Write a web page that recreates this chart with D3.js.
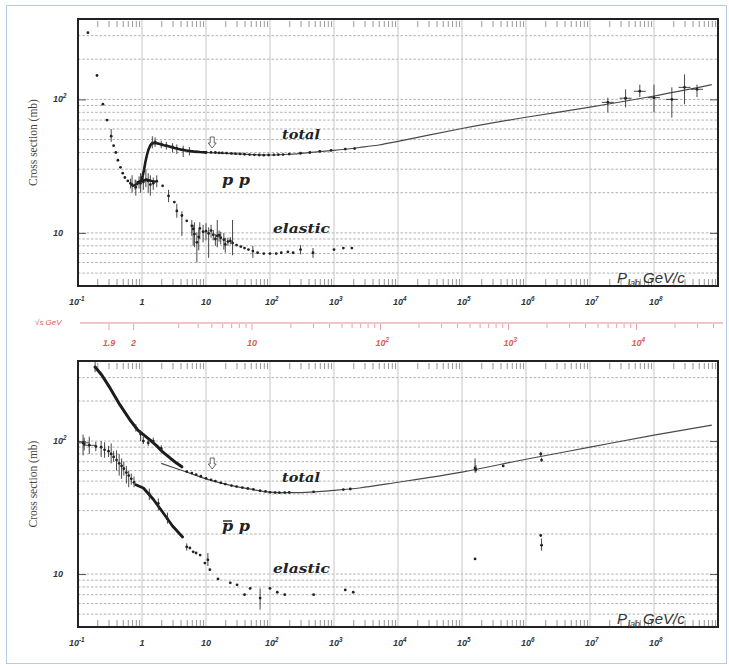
<!DOCTYPE html>
<html><head><meta charset="utf-8">
<script src="https://cdn.jsdelivr.net/npm/d3@7"></script>
<style>body{margin:0;background:#fff}svg{display:block}</style>
</head><body>
<svg id="c" width="729" height="668"></svg>
<script>
// ---------------- data ----------------
const xDecades = [0.1, 1, 10, 100, 1e3, 1e4, 1e5, 1e6, 1e7, 1e8];
const xTickLabels = [["10","-1"],["1",""],["10",""],["10","2"],["10","3"],["10","4"],["10","5"],["10","6"],["10","7"],["10","8"]];
const yTickValues = [10, 100];
const yTickLabels = [["10",""],["10","2"]];
const yGrid = [5,6,7,8,9,10,20,30,40,50,60,70,80,90,100,200,300];
const sqrtsLabels = [[1.9,"1.9",""],[2,"2",""],[10,"10",""],[100,"10","2"],[1000,"10","3"],[10000,"10","4"]];

// pp (top panel): [p_lab, sigma, low, high]
const ppTotalLow = [[0.143,316],[0.198,151],[0.245,92],[0.284,70],[0.33,53,48,60],[0.36,45],[0.39,40],[0.42,35],
  [0.46,31],[0.5,28],[0.54,26],[0.6,24.5],[0.66,23.5,21.5,25.5],[0.72,22.5],[0.78,22.8,21,25],[0.84,23.2],[0.9,23.8,21.5,26.5]];
const ppTotalBand = [[0.92,24],[0.98,25],[1.03,27],[1.08,30],[1.13,34],[1.19,38],[1.26,42],[1.34,45],[1.43,46.8],
  [1.55,47.2],[1.7,47],[1.9,46.3],[2.2,45.4],[2.6,44.5],[3.0,43.6],[3.6,42.6],[4.3,41.8],[5.2,41.2],[6.5,40.6],[8,40.3],[10,40.1]];
const ppTotalPts = [[1.45,47,43,53],[1.6,48,44,52],[2.0,46,43,49],[2.4,45,42,48],[3.0,44,40,47],[3.5,43,39,46],[4.4,42,37,45],
  [5.5,41,38,44],[7,40.5],[10,40],[12,40.1],[14,40],[16,39.8],[18,39.7],[21,39.6],[25,39.4],[29,39.2],[34,39.0],[40,38.8],
  [48,38.6],[57,38.4],[68,38.3],[80,38.2],[95,38.3],[115,38.4],[135,38.5],[160,38.6],[200,38.9],[300,39.5],[420,40.0],
  [600,40.8],[900,41.5],[1500,42.4],[2100,42.8]];
const ppCosmic = [[1.9e7,95,80,103],[3.6e7,102,87,119],[6e7,115,104,129],[1.0e8,103,80,129],[1.9e8,100,73,123],[3.0e8,123,92,154],[4.7e8,119,104,129]];
const ppElasticBand = [[0.85,24],[1.0,24.5],[1.2,25],[1.4,24.5],[1.6,24.2]];
const ppElasticLow = [[0.7,23,20,27],[0.8,22,19,25],[0.95,23.5,20,28],[1.05,24,21,27],[1.15,25,22,30],[1.25,24.5,20,28],[1.35,23,19,27],[1.5,23.5,21,26]];
const ppElasticPts = [[1.7,24.4,22,27],[2.1,22.5],[2.6,18.9,17,21],[3.2,17],[3.5,14.6,13,16.5],[4.2,13.5,9.5,14.5],[5.0,12.3],
  [6.0,11.3,9.5,12.5],[6.3,10.7,8,11.5],[6.6,9.8,7.8,12],[7.2,8.5,6.0,10.1],[7.7,9.3,7.4,10.6],[8,10.8,9,12],[9,10.2,8.5,11.5],
  [10,10.3,8.8,11.8],[11,9.9,6.5,11],[12,10.4,9.2,11.5],[13,9.7,8.8,10.5],[14,9.0,8,9.8],[15,9.5,7.8,12.5],[16,9.6,8.6,10.4],
  [17,9.2,8.2,10.2],[19,8.9,7.5,10],[20,8.2,7.1,9.2],[22,8.6,8,9.2],[24,8.7,8.2,9.3],[26,8.4,6.8,12.5],[30,8.1],[35,7.9],[40,7.7],
  [46,7.5],[54,7.3,6.5,8.0],[64,7.1],[80,7.0],[100,7.0],[125,7.0],[150,7.1],[190,7.2],[230,7.1],[300,7.5,6.9,8.1],
  [470,7.1,6.5,7.7],[1000,7.5],[1400,7.7],[1900,7.7]];
const ppFit = [[3,43.6],[5,41.4],[10,40.1],[20,39.4],[50,38.6],[100,38.3],[200,38.8],[500,40.3],[1000,41.5],[2500,43.6],
  [5000,45.5],[1e4,48.5],[3e4,54],[1e5,60.5],[1e6,73.5],[1e7,87.5],[1e8,106],[8e8,129]];

// pbar-p (bottom panel)
const pbTotalBand = [[0.185,360],[0.235,314],[0.316,251],[0.453,187],[0.65,144],[0.86,121],[1.1,110],[1.33,102],[1.7,92],
  [2.1,83],[2.8,74],[3.5,68],[4.2,64]];
const pbTotalLow = [[0.185,360,330,400],[0.8,126,118,134],[0.95,113,100,120],[1.05,100,95,108],[1.25,97,92,103],[1.5,100,95,106],[2.0,88,83,93]];
const pbTotalPts = [[5,59],[6,57.5],[7,56],[8.3,54.5],[10,52.5],[12,51],[14,50],[17,48.5],[20,47.5],[25,46.3],[30,45.5],
  [37,44.7],[45,44],[55,43.3],[70,42.3],[85,41.8],[100,41.2],[120,41.0],[140,40.9],[170,41.0],[200,41.1],[480,41.5],
  [1400,43.2],[1800,43.6],[1.6e5,62.8,58,74],[1.65e5,61,58,66],[4.4e5,65],[1.7e6,80,77,83],[1.75e6,72,70,75]];
const pbElasticCross = [[0.12,97,78,112],[0.15,93,80,108]];
const pbElasticLow = [[0.125,95,85,106],[0.19,91,84,99],[0.23,90,76,100],[0.26,86,75,98],
  [0.3,84,76,92],[0.33,80,68,96],[0.36,76,70,84],[0.4,72,60,85],[0.44,68,55,80],[0.48,65,52,74],[0.52,62,55,70],
  [0.57,58,48,65],[0.62,55,45,60],[0.68,52,47,57],[0.75,49,45,54]];
const pbElasticBand = [[0.8,47],[1.05,44.4],[1.5,36.5],[2.15,28.8],[3.0,23],[4.3,19]];
const pbElasticPts = [[1.3,40,36,44],[1.8,34,30,37],[2.5,26,24,29],[5,16,15,17],[5.6,15.7],[6.3,14.7],[7,14.4],[8.1,13.9],
  [9.6,12.1],[10.7,12.8,11.5,14.4],[11.5,10.8],[15.4,9.2],[24,8.6],[30.6,8.3],[40,7.0],[49,7.8],[70,6.6,5.4,7.8],[100,7.8],
  [130,7.3],[170,7.0],[480,7.0],[1500,7.6],[2000,7.3],[1.6e5,13],[1.7e6,19.5],[1.75e6,16.5,15,18.5]];
const pbFit = [[2,68],[3,63.5],[5,58.5],[10,52],[20,47.5],[50,43.5],[100,41.3],[200,40.9],[500,41.5],[1000,42.6],
  [2500,44.4],[1e4,49],[1e5,58.5],[1e6,73],[1e7,90],[1e8,111],[8e8,132]];

// ---------------- drawing ----------------
const svg = d3.select('#c');
const X0 = 78, X1 = 718;
const x = d3.scaleLog().domain([0.1, 1e9]).range([X0, X1]);
const minorX = [];
xDecades.forEach(d => { for (let m = 2; m <= 9; m++) minorX.push(d * m); });

svg.append('rect').attr('x',6.5).attr('y',5.5).attr('width',720).attr('height',658)
  .attr('fill','none').attr('stroke','#b7cbe6').attr('stroke-width',1);

function supLabel(g, xp, yp, base, sup, anchor, size, color) {
  const t = g.append('text').attr('x', xp).attr('y', yp).attr('text-anchor', anchor)
    .attr('font-family','Liberation Sans, Arial, sans-serif').attr('font-size', size)
    .attr('font-weight','bold').attr('font-style','italic').attr('fill', color);
  t.append('tspan').text(base);
  if (sup) t.append('tspan').attr('dy', -size*0.45).attr('font-size', size*0.7).text(sup);
  return t;
}

function drawPanel(top, bottom) {
  const y = d3.scaleLog().domain([4, 400]).range([bottom, top]);
  const g = svg.append('g');
  g.selectAll('line.hg').data(yGrid).join('line')
    .attr('x1', X0).attr('x2', X1).attr('y1', d => y(d)).attr('y2', d => y(d))
    .attr('stroke', '#9c9c9c').attr('stroke-width', 0.8).attr('stroke-dasharray', '2.5,1.8');
  g.selectAll('line.vg').data(xDecades.slice(1)).join('line')
    .attr('x1', d => x(d)).attr('x2', d => x(d)).attr('y1', top).attr('y2', bottom)
    .attr('stroke', '#c6c6c6').attr('stroke-width', 1);
  const axT = d3.axisTop(x).tickValues(minorX).tickSize(-6).tickFormat('');
  const axB = d3.axisBottom(x).tickValues(minorX).tickSize(-6).tickFormat('');
  [[axT, top + 2], [axB, bottom - 1]].forEach(([ax, yy]) => {
    const a = g.append('g').attr('transform', `translate(0,${yy})`).call(ax);
    a.select('.domain').remove();
    a.selectAll('line').attr('stroke', '#8a8a8a').attr('stroke-width', 0.9);
  });
  const axL = d3.axisLeft(y).tickValues(yTickValues).tickSize(-8).tickFormat('');
  const axR = d3.axisRight(y).tickValues(yTickValues).tickSize(-8).tickFormat('');
  [[axL, X0], [axR, X1]].forEach(([ax, xx]) => {
    const a = g.append('g').attr('transform', `translate(${xx},0)`).call(ax);
    a.select('.domain').remove();
    a.selectAll('line').attr('stroke', '#555').attr('stroke-width', 1);
  });
  g.append('rect').attr('x', X0).attr('y', top).attr('width', X1 - X0).attr('height', bottom - top)
    .attr('fill', 'none').attr('stroke', '#222').attr('stroke-width', 2);
  xDecades.forEach((d, i) => {
    const [b, s] = xTickLabels[i];
    if (s === '') supLabel(g, x(d), bottom + 19, b, s, 'middle', 9, '#333');
    else supLabel(g, x(d) - (s.length > 1 ? 9 : 5), bottom + 19, b, s, 'start', 9, '#333');
  });
  yTickValues.forEach((d, i) => {
    const [b, s] = yTickLabels[i];
    supLabel(g, 53, y(d) + 3, b, s, 'start', 9, '#333');
  });
  g.append('text').attr('transform', `translate(37,${(top + bottom) / 2 - 10}) rotate(-90)`)
    .attr('text-anchor', 'middle').attr('font-family', 'Liberation Serif, Times New Roman, serif')
    .attr('font-size', 11.5).attr('fill', '#444').text('Cross section (mb)');
  const t = g.append('text').attr('x', 617).attr('y', bottom - 3)
    .attr('font-family', 'Liberation Sans, Arial, sans-serif').attr('font-style', 'italic')
    .attr('font-size', 15).attr('fill', '#333');
  t.append('tspan').text('P');
  t.append('tspan').attr('dy', 3).attr('dx', 1).attr('font-size', 9).text('lab');
  t.append('tspan').attr('dy', -3).attr('dx', 3).text('GeV/c');
  return y;
}

function drawFit(y, data) {
  svg.append('path').datum(data)
    .attr('d', d3.line().x(d => x(d[0])).y(d => y(d[1])).curve(d3.curveMonotoneX))
    .attr('fill', 'none').attr('stroke', '#4a4a4a').attr('stroke-width', 1.2);
}
function drawBand(y, data, w) {
  svg.append('path').datum(data)
    .attr('d', d3.line().x(d => x(d[0])).y(d => y(d[1])))
    .attr('fill', 'none').attr('stroke', '#1c1c1c').attr('stroke-width', w)
    .attr('stroke-linejoin', 'round').attr('stroke-linecap', 'round');
}
function drawPts(y, data, cross) {
  const g = svg.append('g');
  g.selectAll('line.e').data(data.filter(d => d.length > 2)).join('line')
    .attr('x1', d => x(d[0])).attr('x2', d => x(d[0])).attr('y1', d => y(d[2])).attr('y2', d => y(d[3]))
    .attr('stroke', '#333').attr('stroke-width', 0.9);
  if (cross) g.selectAll('line.h').data(data).join('line')
    .attr('x1', d => x(d[0]) - 6).attr('x2', d => x(d[0]) + 6).attr('y1', d => y(d[1])).attr('y2', d => y(d[1]))
    .attr('stroke', '#333').attr('stroke-width', 0.9);
  g.selectAll('circle').data(data).join('circle')
    .attr('cx', d => x(d[0])).attr('cy', d => y(d[1])).attr('r', 1.4).attr('fill', '#222');
}
function label(xp, yp, txt, len, size) {
  return svg.append('text').attr('x', xp).attr('y', yp)
    .attr('font-family', 'DejaVu Serif, serif').attr('font-weight', 'bold').attr('font-style', 'italic')
    .attr('font-size', size).attr('fill', '#222').attr('textLength', len).attr('lengthAdjust', 'spacingAndGlyphs').text(txt);
}
function arrow(xp, yTopA) {
  // hollow downward arrow annotation
  const p = d3.path();
  p.moveTo(xp - 2, yTopA); p.lineTo(xp + 2, yTopA); p.lineTo(xp + 2, yTopA + 6);
  p.lineTo(xp + 4, yTopA + 6); p.lineTo(xp, yTopA + 11); p.lineTo(xp - 4, yTopA + 6);
  p.lineTo(xp - 2, yTopA + 6); p.closePath();
  svg.append('path').attr('d', p.toString()).attr('fill', '#fff').attr('stroke', '#555').attr('stroke-width', 0.9);
}

// top panel: pp
const yTop = drawPanel(19, 286);
drawFit(yTop, ppFit);
drawPts(yTop, ppTotalLow, false);
drawBand(yTop, ppTotalBand, 2.6);
drawPts(yTop, ppTotalPts, false);
drawPts(yTop, ppElasticLow, false);
drawBand(yTop, ppElasticBand, 2.4);
drawPts(yTop, ppElasticPts, false);
drawPts(yTop, ppCosmic, true);
label(282, 139, 'total', 38, 13);
label(222, 185, 'p p', 28, 15);
label(273, 233, 'elastic', 57, 13);
arrow(x(12.5), 137);

// bottom panel: pbar p
const yBot = drawPanel(361, 627);
drawFit(yBot, pbFit);
drawBand(yBot, pbTotalBand, 3.0);
drawPts(yBot, pbTotalLow, false);
drawPts(yBot, pbTotalPts, false);
drawPts(yBot, pbElasticCross, true);
drawPts(yBot, pbElasticLow, false);
drawBand(yBot, pbElasticBand, 2.8);
drawPts(yBot, pbElasticPts, false);
label(282, 482, 'total', 38, 13);
label(222, 531, 'p p', 28, 15);
svg.append('line').attr('x1', 223).attr('x2', 232).attr('y1', 521).attr('y2', 521).attr('stroke', '#222').attr('stroke-width', 1.4);
label(273, 573, 'elastic', 57, 13);
arrow(x(12.5), 458);

// sqrt(s) axis (red)
const mp = 0.938;
function plabFromSqrts(rs) { const s = rs * rs; const E = (s - 2 * mp * mp) / (2 * mp); return Math.sqrt(E * E - mp * mp); }
const sAxisY = 323;
const redTicks = [1.9, 2];
[1, 10, 100, 1000, 10000].forEach(d => { for (let m = (d === 1 ? 3 : 1); m <= 9; m++) { const v = d * m; if (plabFromSqrts(v) < 1e9) redTicks.push(v); } });
svg.append('line').attr('x1', 80).attr('x2', 723).attr('y1', sAxisY).attr('y2', sAxisY)
  .attr('stroke', '#ea8a8a').attr('stroke-width', 1);
svg.append('g').selectAll('line').data(redTicks).join('line')
  .attr('x1', d => x(plabFromSqrts(d))).attr('x2', d => x(plabFromSqrts(d)))
  .attr('y1', sAxisY + 1).attr('y2', d => sAxisY + ([1.9, 2, 10, 100, 1000, 10000].includes(d) ? 7 : 5))
  .attr('stroke', '#e49a9a').attr('stroke-width', 0.9);
const rg = svg.append('g');
sqrtsLabels.forEach(([v, b, s]) => {
  if (s === '') supLabel(rg, x(plabFromSqrts(v)), 346, b, s, 'middle', 9, '#e05a5a');
  else supLabel(rg, x(plabFromSqrts(v)) - 5, 346, b, s, 'start', 9, '#e05a5a');
});
svg.append('text').attr('x', 35).attr('y', 325).attr('font-family', 'Liberation Sans, Arial, sans-serif')
  .attr('font-style', 'italic').attr('font-size', 8).attr('fill', '#e05a5a').text('\u221As GeV');
</script>
</body></html>
